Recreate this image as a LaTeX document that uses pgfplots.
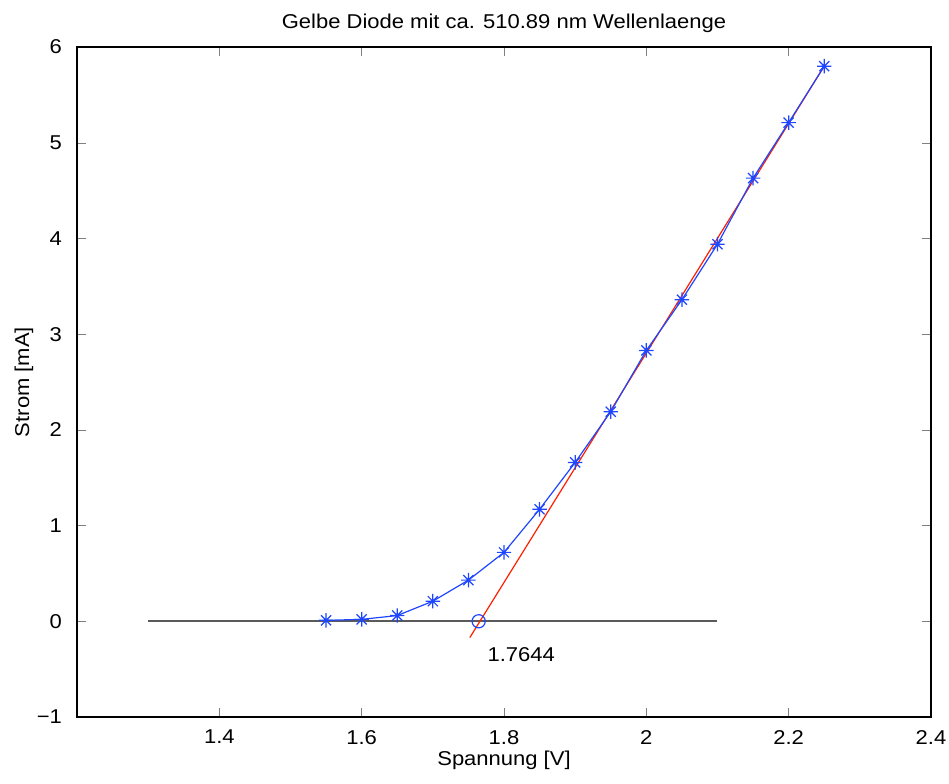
\documentclass[border=0pt]{standalone}
\usepackage{pgfplots}
\pgfplotsset{compat=1.18}
\usepackage{fontspec}
\setmainfont{Liberation Sans}[FakeStretch=1.1]

\definecolor{mblue}{RGB}{30,70,255}
\definecolor{mred}{RGB}{255,30,0}
\definecolor{mgray}{RGB}{90,90,90}

% MATLAB-style '*' marker: plus and cross on top of each other
\pgfdeclareplotmark{mstar}{%
  \pgfpathmoveto{\pgfqpoint{0pt}{\pgfplotmarksize}}%
  \pgfpathlineto{\pgfqpoint{0pt}{-\pgfplotmarksize}}%
  \pgfpathmoveto{\pgfqpoint{\pgfplotmarksize}{0pt}}%
  \pgfpathlineto{\pgfqpoint{-\pgfplotmarksize}{0pt}}%
  \pgfpathmoveto{\pgfqpoint{0.7\pgfplotmarksize}{0.7\pgfplotmarksize}}%
  \pgfpathlineto{\pgfqpoint{-0.7\pgfplotmarksize}{-0.7\pgfplotmarksize}}%
  \pgfpathmoveto{\pgfqpoint{0.7\pgfplotmarksize}{-0.7\pgfplotmarksize}}%
  \pgfpathlineto{\pgfqpoint{-0.7\pgfplotmarksize}{0.7\pgfplotmarksize}}%
  \pgfusepathqstroke}

\begin{document}
\begin{tikzpicture}
\begin{axis}[
    name=ax,
    scale only axis,
    width=427pt, height=335pt,
    xmin=1.2, xmax=2.4,
    ymin=-1, ymax=6,
    xtick={1.4,1.6,1.8,2,2.2,2.4},
    ytick={-1,0,1,2,3,4,5,6},
    yticklabels={−1,0,1,2,3,4,5,6},
    tick align=inside,
    major tick length=4.5pt,
    axis line style={line width=0.6pt},
    /pgf/number format/assume math mode=true,
    tick label style={font=\fontsize{10}{12}\selectfont},
    xticklabel style={yshift=-3pt},
    yticklabel style={xshift=-4pt},
    title style={font=\fontsize{10}{12}\selectfont,
        at={(axis description cs:0.5,1)}, anchor=center, yshift=5.75pt},
    title={Gelbe Diode mit ca. 510.89 nm Wellenlaenge},
    xlabel={Spannung [V]},
    ylabel={Strom [mA]},
    every axis x label/.style={at={(axis description cs:0.5,-0.064)},
        anchor=center, font=\fontsize{10}{12}\selectfont},
    every axis y label/.style={at={(axis description cs:-0.062,0.5)},
        rotate=90, anchor=center, font=\fontsize{10}{12}\selectfont},
    clip=false,
]
% zero line
\addplot[mgray, line width=0.8pt] coordinates {(1.3,0) (2.1,0)};
% fitted tangent
\addplot[mred, line width=0.6pt] coordinates {(1.752,-0.17) (2.25,5.80)};
% measurements
\addplot[mblue, line width=0.6pt, mark=mstar, mark size=3.6pt] coordinates {
    (1.55, 0.01)
    (1.60, 0.02)
    (1.65, 0.06)
    (1.70, 0.21)
    (1.75, 0.43)
    (1.80, 0.72)
    (1.85, 1.17)
    (1.90, 1.66)
    (1.95, 2.19)
    (2.00, 2.83)
    (2.05, 3.36)
    (2.10, 3.94)
    (2.15, 4.63)
    (2.20, 5.21)
    (2.25, 5.80)
};
% intersection
\addplot[mblue, only marks, mark=o, mark size=3.3pt, mark options={line width=0.6pt}] coordinates {(1.7644,0)};
\node[anchor=west, font=\fontsize{10}{12}\selectfont] at (axis cs:1.767,-0.35) {1.7644};
\end{axis}
% page size as in the reference figure
\pgfresetboundingbox
\path (ax.south west) ++(-38.5pt,-33pt) rectangle ++(474.5pt,391.5pt);
\end{tikzpicture}
\end{document}
